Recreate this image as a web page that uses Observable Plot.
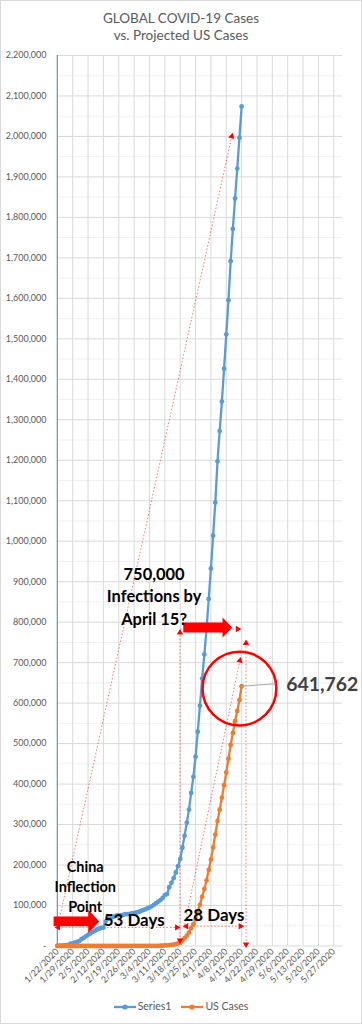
<!DOCTYPE html>
<html><head><meta charset="utf-8">
<script src="https://cdn.jsdelivr.net/npm/d3@7"></script>
<script src="https://cdn.jsdelivr.net/npm/@observablehq/plot@0.6"></script>
<style>
html,body{margin:0;padding:0;background:#fff;}
#chart{width:362px;height:1024px;box-sizing:border-box;border:1px solid #d9d9d9;position:relative;overflow:hidden;font-family:Lato,"Open Sans",sans-serif;}
#title{position:absolute;left:-1px;width:362px;top:9px;text-align:center;color:#595959;font-size:13.5px;line-height:17px;}
#plot{position:absolute;left:-1px;top:43px;}
#legend{position:absolute;left:-1px;width:362px;top:997px;text-align:center;color:#595959;font-size:10.5px;line-height:16px;}
#legend span.item{display:inline-block;margin:0 5px;}
#legend svg{vertical-align:middle;margin-right:2px;}
</style></head><body>
<div id="chart">
<div id="title"><div>GLOBAL COVID-19 Cases</div><div>vs. Projected US Cases</div></div>
<div id="plot"></div>
<div id="legend"></div>
</div>
<script>
// ---------- data ----------
const startDate = "2020-01-22";           // first daily observation
const seriesNames = ["Series1", "US Cases"];
const seriesColors = ["#5b9bd5", "#ed7d31"];
// Global confirmed cases, daily 1/22 .. 4/15
const globalCases = [555,654,941,1434,2118,2927,5578,6166,8234,9927,
 12038,16787,19887,23898,27643,30802,34395,37129,40159,42768,44810,45228,60381,66908,69052,71235,73270,75152,75651,76211,76843,78599,78985,79570,80415,81397,82756,84124,86013,
 88371,90309,92844,95124,97886,101800,105836,109835,113582,118582,125865,128343,145193,156097,167449,181531,197146,214910,242708,272166,304524,336953,378235,418045,467653,529591,593291,660706,720117,782365,857487,
 932605,1013466,1095917,1197405,1272115,1345101,1426096,1511104,1595350,1691719,1771514,1846679,1920618,1997000,2074000];
// US cases, daily 1/22 .. 4/15
const usCases = [1,1,2,2,5,5,5,5,5,7,
 8,8,11,11,11,11,11,11,11,11,12,12,13,13,13,13,13,13,13,13,15,15,15,51,51,57,58,60,68,
 74,98,118,149,217,262,402,518,583,959,1281,1663,2179,2727,3499,4632,6421,7786,13680,19101,25493,33276,43847,53740,65778,83836,101657,121465,140909,161831,188172,
 213242,243622,275367,308650,336802,366317,397121,428654,462780,496535,526396,555313,580619,607670,641762];
const xTickLabels = ["1/22/2020","1/29/2020","2/5/2020","2/12/2020","2/19/2020","2/26/2020","3/4/2020","3/11/2020","3/18/2020","3/25/2020","4/1/2020","4/8/2020","4/15/2020","4/22/2020","4/29/2020","5/6/2020","5/13/2020","5/20/2020","5/27/2020"];
const xDomain = ["2020-01-22","2020-05-31"];
const yMax = 2200000;
const yMajor = d3.range(0, 2200001, 100000);
const yMinor = d3.range(50000, 2200000, 100000);

// annotations (in data space: day offset from startDate, value)
const dottedLines = [
  {x1:0,    y1:44000,  x2:79.5, y2:2000000, h1:false, h2:true},
  {x1:0.4,  y1:46000,  x2:54.5, y2:46000,   h1:true,  h2:true},
  {x1:58.8, y1:49000,  x2:83.5, y2:49000,   h1:true,  h2:true},
  {x1:55.9, y1:14000,  x2:55.9, y2:774000,  h1:true,  h2:true},
  {x1:86,   y1:4000,   x2:86,   y2:748000,  h1:true,  h2:true},
  {x1:57.7, y1:44000,  x2:83.2, y2:705000,  h1:false, h2:true},
  {x1:56,   y1:783000, x2:82.2, y2:783000,  h1:false, h2:true}
];
const blockArrows = [
  {id:"china", start:-1.7, base:14.1, tip:19.1, center:60800,  body:12300, head:28700},
  {id:"april", start:57.4, base:75.3, tip:79.7, center:787000, body:12300, head:24600}
];
const labels = [
  {text:"750,000\nInfections by\nApril 15?", x:44.1, y:867000, size:16.5, anchor:"middle", lh:1.37},
  {text:"China\nInflection\nPoint",           x:12.7, y:150000, size:14.5, anchor:"middle", lh:1.4},
  {text:"53 Days",                            x:35,   y:64000,  size:17,   anchor:"middle", lh:1},
  {text:"28 Days",                            x:71.4, y:76000,  size:17,   anchor:"middle", lh:1}
];
const callout = {label:"641,762", day:84, value:641762, lx:99.5, ly:648000, tx:104.3, ty:645000};
const circleMark = {x:83, y:636000, r:37};

// ---------- build ----------
const t0 = new Date(startDate + "T00:00:00Z").getTime();
const D = n => new Date(t0 + n * 864e5);
const parseTick = s => { const [m,d,y] = s.split("/").map(Number); return new Date(Date.UTC(y, m-1, d)); };
const xTicks = xTickLabels.map(parseTick);
const tickFmt = d3.utcFormat("%-m/%-d/%Y");

const rows = [];
globalCases.forEach((v,i) => rows.push({date:D(i), value:v, series:seriesNames[0]}));
usCases.forEach((v,i) => rows.push({date:D(i), value:v, series:seriesNames[1]}));

const W = 362, H = 954, mL = 57, mR = 19, mT = 11, mB = 50;
const xDom = xDomain.map(s => new Date(s + "T00:00:00Z"));
const sx = Plot.scale({x:{type:"utc", domain:xDom, range:[mL, W - mR]}});
const sy = Plot.scale({y:{type:"linear", domain:[0, yMax], range:[H - mB, mT]}});

const links = dottedLines.map(l => ({x1:D(l.x1), y1:l.y1, x2:D(l.x2), y2:l.y2}));
const heads = [];
dottedLines.forEach(l => {
  const px1 = sx.apply(D(l.x1)), py1 = sy.apply(l.y1), px2 = sx.apply(D(l.x2)), py2 = sy.apply(l.y2);
  const ang = (dx, dy) => Math.atan2(dx, -dy) * 180 / Math.PI;
  if (l.h2) heads.push({x:D(l.x2), y:l.y2, rot:ang(px2-px1, py2-py1)});
  if (l.h1) heads.push({x:D(l.x1), y:l.y1, rot:ang(px1-px2, py1-py2)});
});
const arrowPts = [];
blockArrows.forEach(a => {
  const pts = [[a.start,a.center+a.body],[a.base,a.center+a.body],[a.base,a.center+a.head],[a.tip,a.center],
               [a.base,a.center-a.head],[a.base,a.center-a.body],[a.start,a.center-a.body]];
  pts.forEach(([d,v]) => arrowPts.push({id:a.id, x:D(d), y:v}));
});

const chart = Plot.plot({
  width: W, height: H, marginLeft: mL, marginRight: mR, marginTop: mT, marginBottom: mB,
  style: {fontFamily: "Lato, 'Open Sans', sans-serif", color: "#595959", background: "transparent", overflow: "visible"},
  x: {type: "utc", domain: xDom},
  y: {domain: [0, yMax]},
  color: {domain: seriesNames, range: seriesColors},
  marks: [
    Plot.ruleY(yMinor, {stroke: "#f0f0f0", strokeWidth: 1}),
    Plot.ruleY(yMajor, {stroke: "#d9d9d9", strokeWidth: 1}),
    Plot.ruleX(xTicks, {stroke: "#d9d9d9", strokeWidth: 1}),
    Plot.ruleX([xDom[0]], {stroke: "#5b9bd5", strokeWidth: 1.2}),
    Plot.axisY({ticks: yMajor, tickSize: 0, tickPadding: 11, fontSize: 9,
      tickFormat: d => d === 0 ? "-" : d3.format(",")(d), label: null}),
    Plot.axisX({ticks: xTicks, tickSize: 0, tickPadding: 4, tickRotate: -45, fontSize: 9,
      tickFormat: d => xTickLabels[xTicks.findIndex(t => +t === +d)] ?? tickFmt(d), label: null}),
    Plot.link(links, {x1:"x1", y1:"y1", x2:"x2", y2:"y2", stroke:"#ff0000", strokeOpacity:0.55, strokeWidth:1, strokeDasharray:"1.5,2"}),
    Plot.line(rows, {x:"date", y:"value", z:"series", stroke:"series", strokeWidth:2.3}),
    Plot.dot(rows, {x:"date", y:"value", fill:"series", r:2.4}),
    Plot.dot(heads, {x:"x", y:"y", symbol:"triangle", r:2.4, fill:"#ff0000", stroke:"none", rotate:"rot"}),
    Plot.dot([circleMark], {x: d => D(d.x), y:"y", r:circleMark.r, stroke:"#ff0000", strokeWidth:2.5, fill:"none"}),
    Plot.link([callout], {x1: d => D(d.day), y1:"value", x2: d => D(d.lx), y2:"ly", stroke:"#a6a6a6", strokeWidth:1}),
    Plot.line(arrowPts, {x:"x", y:"y", z:"id", fill:"#ff0000", stroke:"none"}),
    ...labels.map(l => Plot.text([l], {x: d => D(d.x), y:"y", text:"text", fontSize:l.size, fontWeight:"bold", fill:"#000", lineHeight:l.lh, textAnchor:l.anchor})),
    Plot.text([callout], {x: d => D(d.tx), y:"ty", text:"label", fontSize:19.5, fontWeight:"bold", fill:"#404040", textAnchor:"start"})
  ]
});
document.getElementById("plot").appendChild(chart);

// legend
const leg = document.getElementById("legend");
seriesNames.forEach((n,i) => {
  const s = document.createElement("span"); s.className = "item";
  s.innerHTML = `<svg width="22" height="8"><line x1="0" y1="4" x2="22" y2="4" stroke="${seriesColors[i]}" stroke-width="2.3"/><circle cx="11" cy="4" r="2.6" fill="${seriesColors[i]}"/></svg>${n}`;
  leg.appendChild(s);
});
</script>
</body></html>
